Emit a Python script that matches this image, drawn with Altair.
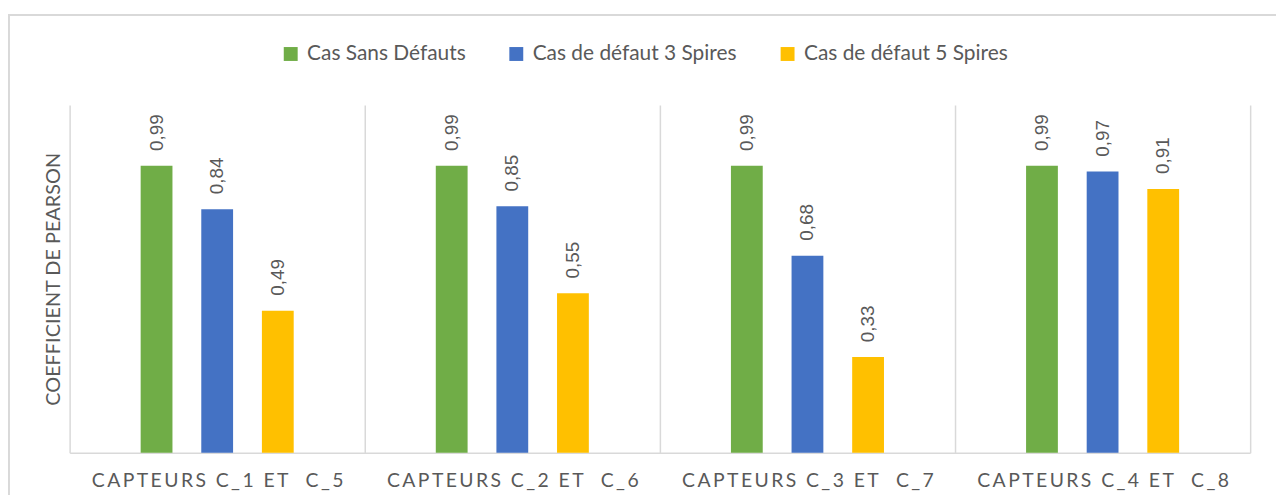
import altair as alt
import pandas as pd

categories = ["CAPTEURS C_1 ET  C_5", "CAPTEURS C_2 ET  C_6",
              "CAPTEURS C_3 ET  C_7", "CAPTEURS C_4 ET  C_8"]
series = ["Cas Sans Défauts", "Cas de défaut 3 Spires", "Cas de défaut 5 Spires"]
colors = ["#70AD47", "#4472C4", "#FFC000"]
sans_defauts = [0.99, 0.99, 0.99, 0.99]
defaut_3 = [0.84, 0.85, 0.68, 0.97]
defaut_5 = [0.49, 0.55, 0.33, 0.91]

SP = "\u2009"
def spaced(s):
    return SP.join(list(s))

rows = []
for i, c in enumerate(categories):
    for s, vals in zip(series, [sans_defauts, defaut_3, defaut_5]):
        v = vals[i]
        rows.append({"cat": spaced(c), "serie": s, "val": v,
                     "lab": f"{v:.2f}".replace(".", ",")})
df = pd.DataFrame(rows)
cat_order = [spaced(c) for c in categories]
offset_domain = ["_pad0"] + series + ["_pad1"]

W, H = 1188, 350
FONT = "Lato"
GRAY = "#595959"
LINE = "#d9d9d9"

x = alt.X("cat:N", sort=cat_order, title=None,
          scale=alt.Scale(paddingInner=0, paddingOuter=0),
          axis=alt.Axis(tickBand="extent", grid=True, gridColor=LINE, gridWidth=1.5,
                        domainColor=LINE, domainWidth=1.5, ticks=False,
                        labelAngle=0, labelFont=FONT, labelFontSize=19.5,
                        labelColor=GRAY, labelPadding=19, labelLimit=0))
xo_scale = alt.Scale(domain=offset_domain, paddingInner=0.4754, paddingOuter=0.172)
y = alt.Y("val:Q", scale=alt.Scale(domain=[0, 1.2], nice=False, zero=True),
          axis=alt.Axis(labels=False, ticks=False, domain=False, grid=False,
                        title="COEFFICIENT DE PEARSON", titleFont=FONT,
                        titleFontSize=20, titleFontWeight="normal",
                        titleColor=GRAY, titlePadding=6))

bars = alt.Chart(df).mark_bar().encode(
    x=x, xOffset=alt.XOffset("serie:N", scale=xo_scale), y=y,
    color=alt.Color("serie:N", sort=series,
                    scale=alt.Scale(domain=series, range=colors),
                    legend=alt.Legend(title=None, orient="none", direction="horizontal",
                                      legendX=212, legendY=-62,
                                      symbolType="square", symbolSize=196,
                                      symbolStrokeWidth=0, symbolOpacity=1,
                                      labelFont=FONT, labelFontSize=21,
                                      labelColor=GRAY, labelOffset=6,
                                      labelLimit=0, columnPadding=40)),
)

texts = alt.Chart(df).mark_text(angle=270, align="left", baseline="middle",
                                dx=15, font="Liberation Sans", fontSize=19,
                                color=GRAY).encode(
    x=alt.X("cat:N", sort=cat_order),
    xOffset=alt.XOffset("serie:N", scale=xo_scale),
    y="val:Q", text="lab:N")

border = alt.Chart(df).mark_rect(fill=None, stroke=LINE, strokeWidth=1.5).encode(
    x=alt.value(-61.5), x2=alt.value(W + 100), y=alt.value(-90.5), y2=alt.value(H + 100))

chart = alt.layer(border, bars, texts).properties(
    width=W, height=H,
    autosize=alt.AutoSizeParams(type="none"),
    padding={"left": 62, "top": 96, "right": 26, "bottom": 41},
).configure_view(stroke=None)

chart.save("out.html", embed_options={"renderer": "svg", "actions": False})
